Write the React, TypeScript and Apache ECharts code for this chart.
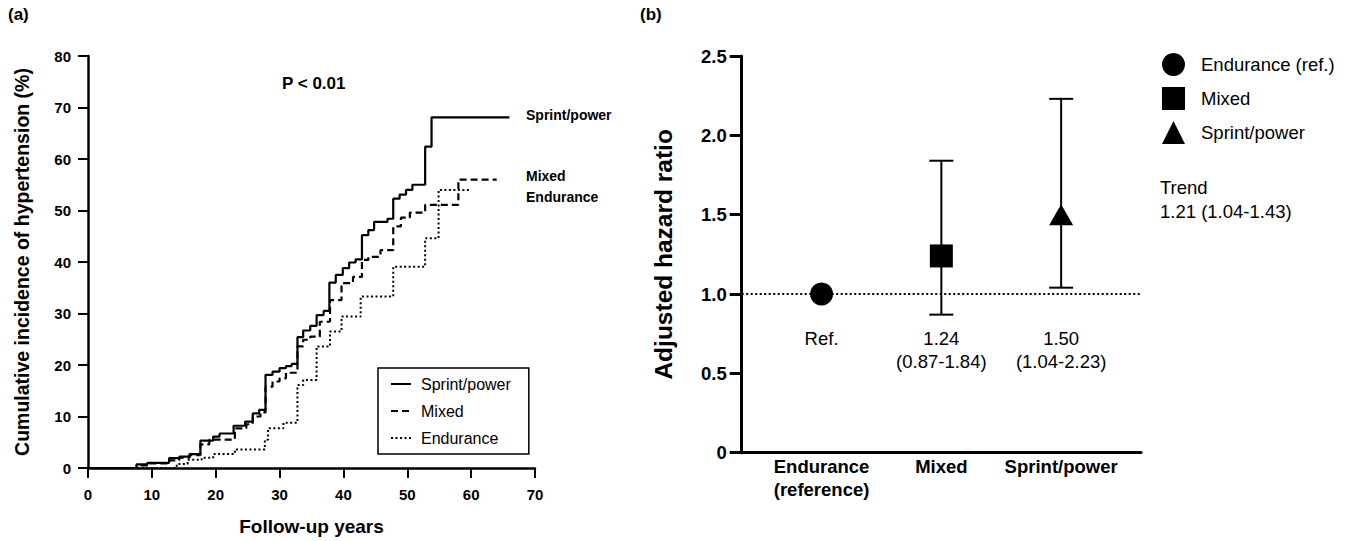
import React, { useEffect, useRef } from "react";
import * as echarts from "echarts";

const FONT = "Liberation Sans, Arial, Helvetica, sans-serif";

// Panel (a): Kaplan-Meier style cumulative incidence, [years, %]
const sprintCurve: [number, number][] = [
  [0, 0], [7.6, 0.7], [9.3, 1.0], [12.7, 1.9], [14.3, 2.2], [15.9, 2.7], [17.6, 5.3], [19.6, 6.1],
  [20.6, 6.7], [22.8, 8.2], [24.6, 9.0], [25.8, 10.6], [26.8, 11.3], [27.8, 18.1], [28.9, 18.7],
  [30.0, 19.4], [31.0, 19.8], [31.9, 20.2], [32.8, 25.4], [33.7, 26.7], [34.8, 27.6], [35.8, 29.7],
  [36.9, 30.5], [37.8, 36.0], [38.8, 37.5], [39.9, 38.8], [40.9, 39.9], [41.9, 40.5], [42.9, 45.2],
  [43.9, 46.2], [44.8, 47.8], [46.9, 48.4], [47.8, 52.3], [48.8, 53.1], [49.8, 54.0], [50.8, 55.0],
  [52.8, 62.4], [53.8, 68.1], [66.0, 68.1],
];
const mixedCurve: [number, number][] = [
  [0, 0], [7.6, 0.5], [9.3, 0.9], [12.7, 1.5], [14.3, 2.0], [15.9, 2.5], [17.6, 4.6], [19.0, 5.5],
  [23.0, 7.7], [24.8, 8.5], [25.8, 10.0], [27.0, 10.8], [27.8, 15.8], [28.9, 16.8], [30.0, 17.4],
  [31.0, 18.5], [32.8, 23.6], [33.7, 24.9], [34.8, 25.5], [36.3, 28.4], [37.9, 32.6], [39.7, 35.9],
  [41.5, 37.1], [42.9, 40.4], [43.9, 41.0], [45.8, 42.3], [47.8, 46.9], [49.0, 48.6], [50.4, 49.6],
  [52.8, 51.1], [58.0, 56.0], [64.0, 56.0],
];
const enduranceCurve: [number, number][] = [
  [0, 0], [13.9, 0.8], [15.6, 1.6], [17.8, 2.0], [19.6, 2.7], [23.0, 3.6], [27.7, 5.5], [28.2, 7.7],
  [30.6, 8.8], [32.8, 16.1], [33.7, 17.1], [35.8, 23.6], [37.9, 26.5], [39.7, 29.4], [42.7, 33.3],
  [47.8, 39.1], [52.8, 44.6], [54.9, 54.0], [59.8, 54.0],
];
const curveNames = ["Sprint/power", "Mixed", "Endurance"];

// Panel (b): adjusted hazard ratios
const groups = ["Endurance\n(reference)", "Mixed", "Sprint/power"];
const groupPos = [1, 2, 3];
const hr = [1.0, 1.24, 1.5];
const ciLow = [1.0, 0.87, 1.04];
const ciHigh = [1.0, 1.84, 2.23];
const hrLabels = ["Ref.", "1.24\n(0.87-1.84)", "1.50\n(1.04-2.23)"];
const legendNamesB = ["Endurance (ref.)", "Mixed", "Sprint/power"];
const symbolsB = ["circle", "rect", "triangle"];

export default function App() {
  const ref = useRef<HTMLDivElement>(null);
  useEffect(() => {
    if (!ref.current) return;
    const chart = echarts.init(ref.current, undefined, { renderer: "svg" });
    const black = "#000";
    const lineStyles: any[] = [
      { type: "solid", width: 2.2 },
      { type: [7, 4], width: 2.2 },
      { type: [2, 2.5], width: 2 },
    ];
    const curves = [sprintCurve, mixedCurve, enduranceCurve];

    const scatterB = legendNamesB.map((n, i) => ({
      type: "scatter",
      name: "b:" + n,
      xAxisIndex: 1,
      yAxisIndex: 1,
      symbol: symbolsB[i],
      symbolSize: i === 2 ? [24, 21] : 23,
      itemStyle: { color: black, opacity: 1 },
      z: 5,
      data: [[groupPos[i], hr[i]]],
      ...(i === 0
        ? {
            markLine: {
              silent: true,
              symbol: "none",
              label: { show: false },
              lineStyle: { type: [2, 2.5], width: 2, color: black },
              data: [{ yAxis: 1 }],
            },
          }
        : {}),
    }));

    const option: any = {
      animation: false,
      textStyle: { fontFamily: FONT, color: black },
      grid: [
        { left: 88, top: 56, width: 447, height: 412 },
        { left: 741.7, top: 56, width: 399.3, height: 396.7 },
      ],
      xAxis: [
        {
          gridIndex: 0,
          type: "value",
          min: 0,
          max: 70,
          interval: 10,
          name: "Follow-up years",
          nameLocation: "middle",
          nameGap: 49,
          nameTextStyle: { fontSize: 19, fontWeight: "bold", color: black, fontFamily: FONT },
          axisLine: { lineStyle: { color: black, width: 2.5 } },
          axisTick: { length: 10, lineStyle: { color: black, width: 2 } },
          axisLabel: { margin: 19, fontSize: 15, fontWeight: "bold", color: black, fontFamily: FONT },
          splitLine: { show: false },
        },
        {
          gridIndex: 1,
          type: "value",
          min: 1 / 3,
          max: 11 / 3,
          axisLine: { lineStyle: { color: black, width: 3 } },
          axisTick: { show: false },
          axisLabel: {
            customValues: groupPos,
            formatter: (v: number) => groups[Math.round(v) - 1] ?? "",
            margin: 2,
            fontSize: 18.5,
            lineHeight: 23,
            fontWeight: "bold",
            color: black,
            fontFamily: FONT,
          },
          splitLine: { show: false },
        },
      ],
      yAxis: [
        {
          gridIndex: 0,
          type: "value",
          min: 0,
          max: 80,
          interval: 10,
          name: "Cumulative incidence of hypertension (%)",
          nameLocation: "middle",
          nameGap: 56,
          nameTextStyle: { fontSize: 19.5, fontWeight: "bold", color: black, fontFamily: FONT },
          axisLine: { show: true, lineStyle: { color: black, width: 2.5 } },
          axisTick: { show: true, length: 10, lineStyle: { color: black, width: 2 } },
          axisLabel: { margin: 17, fontSize: 15, fontWeight: "bold", color: black, fontFamily: FONT },
          splitLine: { show: false },
        },
        {
          gridIndex: 1,
          type: "value",
          min: 0,
          max: 2.5,
          interval: 0.5,
          name: "Adjusted hazard ratio",
          nameLocation: "middle",
          nameGap: 66,
          nameTextStyle: { fontSize: 24.5, fontWeight: "bold", color: black, fontFamily: FONT },
          axisLine: { show: true, lineStyle: { color: black, width: 3 } },
          axisTick: { show: true, length: 12, lineStyle: { color: black, width: 3 } },
          axisLabel: {
            margin: 15,
            fontSize: 18.5,
            fontWeight: "bold",
            color: black,
            fontFamily: FONT,
            formatter: (v: number) => (v === 0 ? "0" : v.toFixed(1)),
          },
          splitLine: { show: false },
        },
      ],
      legend: [
        {
          data: curveNames,
          orient: "vertical",
          left: 378,
          top: 368,
          itemWidth: 20,
          itemHeight: 14,
          itemGap: 11,
          padding: [8, 18, 8, 12],
          borderColor: black,
          borderWidth: 1.5,
          borderRadius: 0,
          selectedMode: false,
          itemStyle: { opacity: 0 },
          textStyle: { fontSize: 16, color: black, fontFamily: FONT, padding: [0, 0, 0, 5] },
        },
        {
          data: legendNamesB.map((n) => "b:" + n),
          formatter: (name: string) => name.replace(/^b:/, ""),
          orient: "vertical",
          left: 1162,
          top: 53,
          itemWidth: 23,
          itemHeight: 23,
          itemGap: 11,
          padding: 0,
          selectedMode: false,
          itemStyle: { opacity: 1 },
          textStyle: { fontSize: 18.5, color: black, fontFamily: FONT, padding: [0, 0, 0, 11] },
        },
      ],
      graphic: [
        { type: "text", x: 8, y: 14, style: { text: "(a)", font: `bold 17px ${FONT}`, fill: black, verticalAlign: "middle" } },
        { type: "text", x: 640, y: 14, style: { text: "(b)", font: `bold 17px ${FONT}`, fill: black, verticalAlign: "middle" } },
        { type: "text", x: 282, y: 83, style: { text: "P < 0.01", font: `bold 17px ${FONT}`, fill: black, verticalAlign: "middle" } },
        { type: "text", x: 526, y: 115, style: { text: "Sprint/power", font: `bold 14px ${FONT}`, fill: black, verticalAlign: "middle" } },
        { type: "text", x: 526, y: 176, style: { text: "Mixed", font: `bold 14px ${FONT}`, fill: black, verticalAlign: "middle" } },
        { type: "text", x: 526, y: 197, style: { text: "Endurance", font: `bold 14px ${FONT}`, fill: black, verticalAlign: "middle" } },
        {
          type: "text",
          x: 1160,
          y: 175,
          style: { text: "Trend\n1.21 (1.04-1.43)", font: `18.5px ${FONT}`, lineHeight: 24, fill: black, verticalAlign: "top" },
        },
      ],
      series: [
        ...curves.map((c, i) => ({
          type: "line",
          name: curveNames[i],
          xAxisIndex: 0,
          yAxisIndex: 0,
          step: "end",
          symbol: "none",
          showSymbol: false,
          lineStyle: { color: black, ...lineStyles[i] },
          itemStyle: { color: black },
          data: c,
        })),
        {
          type: "custom",
          name: "ci",
          xAxisIndex: 1,
          yAxisIndex: 1,
          z: 3,
          renderItem: (params: any, api: any) => {
            const x = api.value(0);
            const lo = api.value(1);
            const hi = api.value(2);
            if (lo === hi) return { type: "group", children: [] };
            const pLo = api.coord([x, lo]);
            const pHi = api.coord([x, hi]);
            const hw = 12;
            const st = { stroke: "#000", lineWidth: 2 };
            return {
              type: "group",
              children: [
                { type: "line", shape: { x1: pLo[0], y1: pLo[1], x2: pHi[0], y2: pHi[1] }, style: st },
                { type: "line", shape: { x1: pLo[0] - hw, y1: pLo[1], x2: pLo[0] + hw, y2: pLo[1] }, style: st },
                { type: "line", shape: { x1: pHi[0] - hw, y1: pHi[1], x2: pHi[0] + hw, y2: pHi[1] }, style: st },
              ],
            };
          },
          data: groupPos.map((p, i) => [p, ciLow[i], ciHigh[i]]),
        },
        ...scatterB,
        {
          type: "scatter",
          name: "labels",
          xAxisIndex: 1,
          yAxisIndex: 1,
          symbolSize: 0,
          silent: true,
          itemStyle: { opacity: 1 },
          label: {
            show: true,
            position: "bottom",
            distance: 0,
            fontSize: 18.5,
            lineHeight: 23,
            color: black,
            fontFamily: FONT,
            formatter: (p: any) => hrLabels[p.dataIndex],
          },
          data: groupPos.map((p) => [p, 0.79]),
        },
      ],
    };
    chart.setOption(option);
    return () => chart.dispose();
  }, []);
  return <div ref={ref} style={{ position: "fixed", left: 0, top: 0, width: 1354, height: 541, background: "#fff" }} />;
}
